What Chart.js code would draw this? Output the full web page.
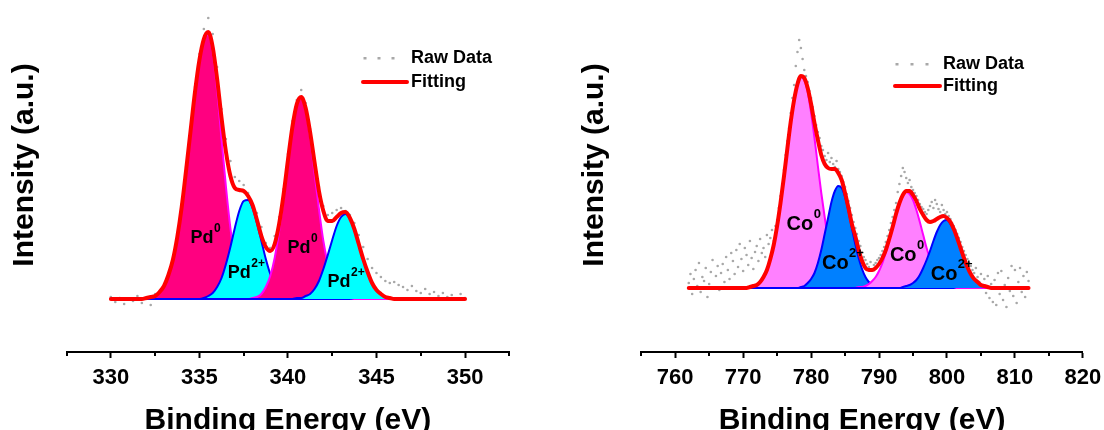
<!DOCTYPE html>
<html>
<head>
<meta charset="utf-8">
<title>XPS Pd 3d / Co 2p</title>
<script src="https://cdn.jsdelivr.net/npm/chart.js@4"></script>
<style>
  html, body { margin: 0; padding: 0; background: #fff; }
  #wrap { display: flex; width: 1104px; height: 430px; }
  canvas { display: block; }
</style>
</head>
<body>
<div id="wrap">
  <canvas id="pdChart" width="552" height="430"></canvas>
  <canvas id="coChart" width="552" height="430"></canvas>
</div>
<script>
// ---- Pd 3d : energy grid (eV) and intensities (a.u.) ----
const pdEnergy = [
  330, 330.25, 330.5, 330.75, 331, 331.25, 331.5, 331.75,
  332, 332.25, 332.5, 332.75, 333, 333.25, 333.5, 333.75,
  334, 334.25, 334.5, 334.75, 335, 335.25, 335.5, 335.75,
  336, 336.25, 336.5, 336.75, 337, 337.25, 337.5, 337.75,
  338, 338.25, 338.5, 338.75, 339, 339.25, 339.5, 339.75,
  340, 340.25, 340.5, 340.75, 341, 341.25, 341.5, 341.75,
  342, 342.25, 342.5, 342.75, 343, 343.25, 343.5, 343.75,
  344, 344.25, 344.5, 344.75, 345, 345.25, 345.5, 345.75,
  346, 346.25, 346.5, 346.75, 347, 347.25, 347.5, 347.75,
  348, 348.25, 348.5, 348.75, 349, 349.25, 349.5, 349.75,
  350
];
const pdRaw = [
  2, -3, 1, -5, 0, -2, 3, -4,
  1, -6, 5, 2, 12, 20, 36, 64,
  95, 132, 172, 212, 245, 270, 281, 265,
  232, 190, 160, 138, 122, 118, 114, 106,
  95, 86, 72, 56, 51, 63, 82, 110,
  145, 178, 199, 209, 196, 170, 140, 112,
  93, 84, 86, 89, 91, 88, 84, 76,
  64, 52, 40, 31, 26, 22, 18, 16,
  17, 14, 12, 9, 13, 8, 6, 10,
  5, 7, 3, 6, 2, 4, 0, 5,
  1
];
const pdFit = [
  0, 0, 0, 0, 0, 0, 0, 0,
  1, 2, 3, 7, 13, 24, 39, 62,
  92, 129, 168, 207, 239, 260, 267, 252,
  220, 181, 147, 123, 111, 109, 108, 103,
  94, 79, 63, 52, 48, 55, 75, 104,
  139, 172, 195, 202, 191, 167, 137, 108,
  88, 78, 78, 82, 86, 87, 81, 70,
  55, 40, 27, 16, 9, 5, 2, 1,
  0, 0, 0, 0, 0, 0, 0, 0,
  0, 0, 0, 0, 0, 0, 0, 0,
  0
];
const pd0First = [
  0, 0, 0, 0, 0, 0, 0, 0,
  1, 2, 3, 7, 13, 24, 39, 62,
  92, 129, 168, 207, 239, 259, 264, 246,
  208, 160, 112, 71, 40, 21, 10, 4,
  2, 1, 0, 0, 0, 0, 0, 0,
  0, 0, 0, 0, 0, 0, 0, 0,
  0, 0, 0, 0, 0, 0, 0, 0,
  0, 0, 0, 0, 0, 0, 0, 0,
  0, 0, 0, 0, 0, 0, 0, 0,
  0, 0, 0, 0, 0, 0, 0, 0,
  0
];
const pd2First = [
  0, 0, 0, 0, 0, 0, 0, 0,
  0, 0, 0, 0, 0, 0, 0, 0,
  0, 0, 0, 0, 0, 1, 3, 6,
  12, 21, 35, 52, 71, 88, 98, 99,
  91, 76, 58, 40, 25, 14, 7, 3,
  1, 0, 0, 0, 0, 0, 0, 0,
  0, 0, 0, 0, 0, 0, 0, 0,
  0, 0, 0, 0, 0, 0, 0, 0,
  0, 0, 0, 0, 0, 0, 0, 0,
  0, 0, 0, 0, 0, 0, 0, 0,
  0
];
const pd0Second = [
  0, 0, 0, 0, 0, 0, 0, 0,
  0, 0, 0, 0, 0, 0, 0, 0,
  0, 0, 0, 0, 0, 0, 0, 0,
  0, 0, 0, 0, 0, 0, 0, 0,
  1, 2, 5, 12, 23, 41, 68, 101,
  138, 172, 195, 201, 189, 162, 126, 90,
  58, 35, 19, 9, 4, 2, 1, 0,
  0, 0, 0, 0, 0, 0, 0, 0,
  0, 0, 0, 0, 0, 0, 0, 0,
  0, 0, 0, 0, 0, 0, 0, 0,
  0
];
const pd2Second = [
  0, 0, 0, 0, 0, 0, 0, 0,
  0, 0, 0, 0, 0, 0, 0, 0,
  0, 0, 0, 0, 0, 0, 0, 0,
  0, 0, 0, 0, 0, 0, 0, 0,
  0, 0, 0, 0, 0, 0, 0, 0,
  0, 0, 1, 1, 3, 5, 10, 18,
  30, 44, 59, 73, 82, 85, 80, 70,
  55, 40, 27, 16, 9, 5, 2, 1,
  0, 0, 0, 0, 0, 0, 0, 0,
  0, 0, 0, 0, 0, 0, 0, 0,
  0
];
const pdTicks = [330, 335, 340, 345, 350];
const pdMinor = [327.5, 332.5, 337.5, 342.5, 347.5, 352.5];

// ---- Co 2p : energy grid (eV) and intensities (a.u.) ----
const coEnergy = [
  762, 762.5, 763, 763.5, 764, 764.5, 765, 765.5, 766, 766.5,
  767, 767.5, 768, 768.5, 769, 769.5, 770, 770.5, 771, 771.5,
  772, 772.5, 773, 773.5, 774, 774.5, 775, 775.5, 776, 776.5,
  777, 777.5, 778, 778.5, 779, 779.5, 780, 780.5, 781, 781.5,
  782, 782.5, 783, 783.5, 784, 784.5, 785, 785.5, 786, 786.5,
  787, 787.5, 788, 788.5, 789, 789.5, 790, 790.5, 791, 791.5,
  792, 792.5, 793, 793.5, 794, 794.5, 795, 795.5, 796, 796.5,
  797, 797.5, 798, 798.5, 799, 799.5, 800, 800.5, 801, 801.5,
  802, 802.5, 803, 803.5, 804, 804.5, 805, 805.5, 806, 806.5,
  807, 807.5, 808, 808.5, 809, 809.5, 810, 810.5, 811, 811.5,
  812
];
const coFit = [
  0, 0, 0, 0, 0, 0, 0, 0, 0, 0,
  0, 0, 0, 0, 0, 0, 0, 0, 1, 2,
  3, 6, 11, 18, 29, 43, 62, 85, 111, 139,
  166, 188, 204, 212, 210, 200, 184, 165, 148, 133,
  124, 120, 119, 119, 115, 108, 95, 80, 64, 52,
  38, 27, 20, 18, 18, 20, 24, 30, 38, 49,
  61, 74, 85, 93, 97, 97, 93, 87, 79, 73,
  68, 66, 67, 69, 71, 72, 70, 66, 59, 50,
  40, 30, 21, 14, 9, 6, 3, 2, 1, 0,
  0, 0, 0, 0, 0, 0, 0, 0, 0, 0,
  0
];
const co0First = [
  0, 0, 0, 0, 0, 0, 0, 0, 0, 0,
  0, 0, 0, 0, 0, 0, 0, 0, 1, 2,
  3, 6, 11, 18, 29, 43, 62, 85, 111, 139,
  166, 188, 204, 211, 208, 196, 175, 150, 122, 95,
  71, 50, 34, 22, 13, 8, 4, 2, 1, 1,
  0, 0, 0, 0, 0, 0, 0, 0, 0, 0,
  0, 0, 0, 0, 0, 0, 0, 0, 0, 0,
  0, 0, 0, 0, 0, 0, 0, 0, 0, 0,
  0, 0, 0, 0, 0, 0, 0, 0, 0, 0,
  0, 0, 0, 0, 0, 0, 0, 0, 0, 0,
  0
];
const co2First = [
  0, 0, 0, 0, 0, 0, 0, 0, 0, 0,
  0, 0, 0, 0, 0, 0, 0, 0, 0, 0,
  0, 0, 0, 0, 0, 0, 0, 0, 0, 0,
  0, 0, 0, 1, 2, 5, 9, 15, 25, 38,
  54, 70, 86, 97, 102, 100, 91, 77, 60, 44,
  30, 19, 11, 6, 3, 1, 1, 0, 0, 0,
  0, 0, 0, 0, 0, 0, 0, 0, 0, 0,
  0, 0, 0, 0, 0, 0, 0, 0, 0, 0,
  0, 0, 0, 0, 0, 0, 0, 0, 0, 0,
  0, 0, 0, 0, 0, 0, 0, 0, 0, 0,
  0
];
const co0Second = [
  0, 0, 0, 0, 0, 0, 0, 0, 0, 0,
  0, 0, 0, 0, 0, 0, 0, 0, 0, 0,
  0, 0, 0, 0, 0, 0, 0, 0, 0, 0,
  0, 0, 0, 0, 0, 0, 0, 0, 0, 0,
  0, 0, 0, 0, 0, 0, 0, 0, 0, 0,
  1, 1, 2, 4, 7, 11, 17, 25, 36, 48,
  61, 74, 85, 93, 96, 94, 88, 78, 66, 53,
  40, 29, 20, 13, 8, 5, 3, 1, 1, 0,
  0, 0, 0, 0, 0, 0, 0, 0, 0, 0,
  0, 0, 0, 0, 0, 0, 0, 0, 0, 0,
  0
];
const co2Second = [
  0, 0, 0, 0, 0, 0, 0, 0, 0, 0,
  0, 0, 0, 0, 0, 0, 0, 0, 0, 0,
  0, 0, 0, 0, 0, 0, 0, 0, 0, 0,
  0, 0, 0, 0, 0, 0, 0, 0, 0, 0,
  0, 0, 0, 0, 0, 0, 0, 0, 0, 0,
  0, 0, 0, 0, 0, 0, 0, 0, 0, 0,
  0, 0, 0, 1, 2, 3, 5, 8, 13, 20,
  28, 37, 47, 56, 63, 67, 68, 64, 58, 49,
  39, 30, 21, 14, 9, 6, 3, 2, 1, 0,
  0, 0, 0, 0, 0, 0, 0, 0, 0, 0,
  0
];
// raw Co 2p spectrum is sampled twice as densely
const coRawEnergy = [
  762, 762.25, 762.5, 762.75, 763, 763.25, 763.5, 763.75, 764, 764.25,
  764.5, 764.75, 765, 765.25, 765.5, 765.75, 766, 766.25, 766.5, 766.75,
  767, 767.25, 767.5, 767.75, 768, 768.25, 768.5, 768.75, 769, 769.25,
  769.5, 769.75, 770, 770.25, 770.5, 770.75, 771, 771.25, 771.5, 771.75,
  772, 772.25, 772.5, 772.75, 773, 773.25, 773.5, 773.75, 774, 774.25,
  774.5, 774.75, 775, 775.25, 775.5, 775.75, 776, 776.25, 776.5, 776.75,
  777, 777.25, 777.5, 777.75, 778, 778.25, 778.5, 778.75, 779, 779.25,
  779.5, 779.75, 780, 780.25, 780.5, 780.75, 781, 781.25, 781.5, 781.75,
  782, 782.25, 782.5, 782.75, 783, 783.25, 783.5, 783.75, 784, 784.25,
  784.5, 784.75, 785, 785.25, 785.5, 785.75, 786, 786.25, 786.5, 786.75,
  787, 787.25, 787.5, 787.75, 788, 788.25, 788.5, 788.75, 789, 789.25,
  789.5, 789.75, 790, 790.25, 790.5, 790.75, 791, 791.25, 791.5, 791.75,
  792, 792.25, 792.5, 792.75, 793, 793.25, 793.5, 793.75, 794, 794.25,
  794.5, 794.75, 795, 795.25, 795.5, 795.75, 796, 796.25, 796.5, 796.75,
  797, 797.25, 797.5, 797.75, 798, 798.25, 798.5, 798.75, 799, 799.25,
  799.5, 799.75, 800, 800.25, 800.5, 800.75, 801, 801.25, 801.5, 801.75,
  802, 802.25, 802.5, 802.75, 803, 803.25, 803.5, 803.75, 804, 804.25,
  804.5, 804.75, 805, 805.25, 805.5, 805.75, 806, 806.25, 806.5, 806.75,
  807, 807.25, 807.5, 807.75, 808, 808.25, 808.5, 808.75, 809, 809.25,
  809.5, 809.75, 810, 810.25, 810.5, 810.75, 811, 811.25, 811.5, 811.75,
  812
];
const coRaw = [
  5, 14, -6, 9, 18, 2, 25, -4, 11, 7,
  20, -9, 4, 16, 28, 0, 12, 22, -2, 15,
  24, 6, 31, 18, 9, 35, 27, 14, 38, 21,
  44, 29, 17, 40, 33, 23, 47, 30, 19, 36,
  42, 27, 49, 35, 40, 31, 53, 44, 50, 58,
  47, 62, 68, 80, 92, 104, 118, 133, 147, 160,
  175, 190, 203, 222, 236, 248, 240, 229, 218, 212,
  206, 197, 190, 181, 172, 163, 156, 150, 142, 138,
  132, 128, 135, 126, 130, 124, 121, 127, 119, 116,
  112, 106, 101, 94, 87, 80, 73, 66, 60, 54,
  47, 42, 36, 31, 28, 24, 21, 26, 19, 23,
  25, 28, 30, 33, 37, 41, 46, 52, 58, 65,
  71, 78, 85, 96, 104, 112, 120, 116, 110, 105,
  108, 101, 98, 95, 92, 88, 84, 81, 79, 76,
  74, 78, 82, 86, 80, 88, 84, 79, 76, 83,
  78, 74, 76, 72, 69, 65, 62, 58, 54, 50,
  46, 41, 37, 33, 29, 25, 22, 18, 15, 20,
  11, 6, 14, 2, 9, -5, 12, -10, 4, -14,
  8, -17, 15, -6, 17, -12, 3, -19, 10, -3,
  22, -8, 18, -15, 6, 20, -4, 12, -9, 16,
  7
];
const coTicks = [760, 770, 780, 790, 800, 810, 820];
const coMinor = [755, 765, 775, 785, 795, 805, 815];

// peak names written inside the fitted components (energy, intensity)
const pdTags = [
  { x: 334.5,  y: 61, main: 'Pd', sup: '0' },
  { x: 336.6,  y: 26, main: 'Pd', sup: '2+' },
  { x: 339.98, y: 51, main: 'Pd', sup: '0' },
  { x: 342.24, y: 17, main: 'Pd', sup: '2+' }
];
const coTags = [
  { x: 776.4, y: 64, main: 'Co', sup: '0' },
  { x: 781.6, y: 25, main: 'Co', sup: '2+' },
  { x: 791.6, y: 33, main: 'Co', sup: '0' },
  { x: 797.6, y: 14, main: 'Co', sup: '2+' }
];

const FONT = '"Liberation Sans", Arial, sans-serif';
Chart.defaults.font.family = FONT;
Chart.defaults.color = '#000';

const toPoints = (xs, ys) => xs.map((x, i) => ({ x, y: ys[i] }));

// one filled component of the fit
function component(energy, values, fill, edge, order) {
  return {
    data: toPoints(energy, values),
    order,
    fill: 'origin',
    backgroundColor: fill,
    borderColor: edge,
    borderWidth: 2,
    pointRadius: 0,
    cubicInterpolationMode: 'monotone'
  };
}

// minor ticks, peak names, legend and the y title
function decor(cfg) {
  return {
    id: 'xpsDecor',
    afterDraw(chart) {
      const { ctx, chartArea, scales: { x, y } } = chart;
      ctx.save();

      ctx.strokeStyle = '#000';
      ctx.lineWidth = 2;
      cfg.minor.forEach(v => {
        const px = Math.round(x.getPixelForValue(v));
        ctx.beginPath();
        ctx.moveTo(px, chartArea.bottom);
        ctx.lineTo(px, chartArea.bottom + 4);
        ctx.stroke();
      });

      ctx.fillStyle = '#000';
      ctx.textAlign = 'left';
      ctx.textBaseline = 'middle';
      cfg.tags.forEach(t => {
        const px = x.getPixelForValue(t.x);
        const py = y.getPixelForValue(t.y);
        ctx.font = 'bold ' + cfg.tagSize + 'px ' + FONT;
        ctx.fillText(t.main, px, py);
        const w = ctx.measureText(t.main).width;
        ctx.font = 'bold ' + Math.round(cfg.tagSize * 0.66) + 'px ' + FONT;
        ctx.fillText(t.sup, px + w + 0.5, py - cfg.tagSize / 2);
      });

      const L = cfg.legend;
      ctx.fillStyle = '#a8a8a8';
      L.dots.forEach(dx => ctx.fillRect(dx - 1.5, L.rawY - 1, 3, 2.5));
      ctx.strokeStyle = '#ff0000';
      ctx.lineWidth = 4;
      ctx.lineCap = 'round';
      ctx.beginPath();
      ctx.moveTo(L.lineFrom, L.fitY);
      ctx.lineTo(L.lineTo, L.fitY);
      ctx.stroke();
      ctx.fillStyle = '#000';
      ctx.font = 'bold 18px ' + FONT;
      ctx.fillText('Raw Data', L.textX, L.rawY);
      ctx.fillText('Fitting', L.textX, L.fitY);

      ctx.translate(cfg.yTitleX, 165);
      ctx.rotate(-Math.PI / 2);
      ctx.textAlign = 'center';
      ctx.font = 'bold 30px ' + FONT;
      ctx.fillText('Intensity (a.u.)', 0, 0);
      ctx.restore();
    }
  };
}

function xpsChart(id, p) {
  return new Chart(document.getElementById(id), {
    type: 'line',
    data: {
      datasets: [
        {
          data: toPoints(p.energy, p.fit),
          order: 0,
          borderColor: '#ff0000',
          borderWidth: 4,
          borderJoinStyle: 'round',
          borderCapStyle: 'round',
          pointRadius: 0,
          fill: false,
          cubicInterpolationMode: 'monotone'
        },
        component(p.energy, p.second2, p.colors.ox, '#0000ff', 1),
        component(p.energy, p.second0, p.colors.metal, '#ff00ff', 2),
        component(p.energy, p.first2, p.colors.ox, '#0000ff', 3),
        component(p.energy, p.first0, p.colors.metal, '#ff00ff', 4),
        {
          data: toPoints(p.rawEnergy, p.raw),
          order: 5,
          showLine: false,
          pointRadius: 1.3,
          pointBackgroundColor: '#a8a8a8',
          pointBorderWidth: 0
        }
      ]
    },
    options: {
      responsive: false,
      animation: false,
      events: [],
      layout: { padding: p.padding },
      plugins: { legend: { display: false }, tooltip: { enabled: false } },
      scales: {
        x: {
          type: 'linear',
          min: p.range[0],
          max: p.range[1],
          afterBuildTicks: s => { s.ticks = p.ticks.map(v => ({ value: v })); },
          // fixed axis band below the plot, no extra side padding for end labels
          afterFit: s => { s.height = 78; s.paddingLeft = 0; s.paddingRight = 0; },
          grid: { display: true, drawOnChartArea: false, drawTicks: true, tickLength: 6, tickWidth: 2, tickColor: '#000' },
          border: { display: true, color: '#000', width: 2 },
          ticks: { color: '#000', font: { size: 22, weight: 'bold' }, padding: 7, maxRotation: 0, autoSkip: false },
          title: {
            display: true,
            text: 'Binding Energy (eV)',
            color: '#000',
            font: { size: 30, weight: 'bold', lineHeight: 0.6 },
            padding: { top: 20.6, bottom: 0 }
          }
        },
        y: { type: 'linear', display: false, min: p.yRange[0], max: p.yRange[1] }
      }
    },
    plugins: [decor(p.decor)]
  });
}

xpsChart('pdChart', {
  energy: pdEnergy, rawEnergy: pdEnergy, raw: pdRaw, fit: pdFit,
  first0: pd0First, first2: pd2First, second0: pd0Second, second2: pd2Second,
  colors: { metal: '#ff0080', ox: '#00ffff' },
  range: [327.5, 352.5], yRange: [-53, 289], ticks: pdTicks,
  padding: { left: 66.6, right: 42.7, top: 10, bottom: 0 },
  decor: {
    minor: pdMinor, tags: pdTags, tagSize: 18, yTitleX: 25,
    legend: { dots: [365, 379, 393], rawY: 58, fitY: 82, lineFrom: 363, lineTo: 407, textX: 411 }
  }
});

xpsChart('coChart', {
  energy: coEnergy, rawEnergy: coRawEnergy, raw: coRaw, fit: coFit,
  first0: co0First, first2: co2First, second0: co0Second, second2: co2Second,
  colors: { metal: '#ff80ff', ox: '#0080ff' },
  range: [755, 820], yRange: [-64, 278], ticks: coTicks,
  padding: { left: 89.2, right: 21.1, top: 10, bottom: 0 },
  decor: {
    minor: coMinor, tags: coTags, tagSize: 20, yTitleX: 43,
    legend: { dots: [345, 360, 375], rawY: 64, fitY: 86, lineFrom: 343, lineTo: 388, textX: 391 }
  }
});
</script>
</body>
</html>
